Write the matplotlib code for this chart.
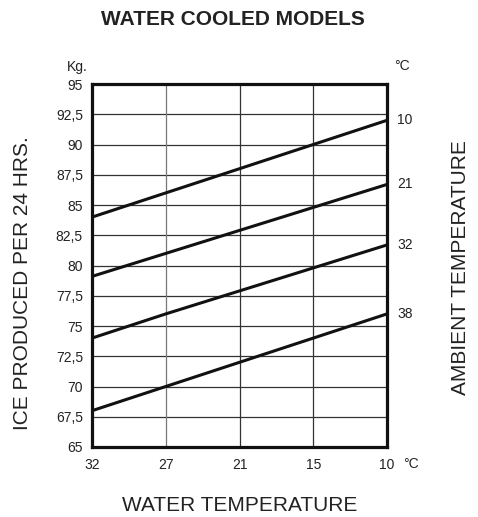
import matplotlib
matplotlib.use("Agg")
import matplotlib.pyplot as plt

plt.rcParams['font.family'] = ['Liberation Sans', 'DejaVu Sans']

water_temps = ["32", "27", "21", "15", "10"]
ambient_labels = ["10", "21", "32", "38"]
ice_10 = [84.0, 86.0, 88.0, 90.0, 92.0]
ice_21 = [79.1, 81.0, 82.9, 84.8, 86.7]
ice_32 = [74.0, 76.0, 77.9, 79.8, 81.7]
ice_38 = [68.0, 70.0, 72.0, 74.0, 76.0]
series = [ice_10, ice_21, ice_32, ice_38]
y_ticks = [65, 67.5, 70, 72.5, 75, 77.5, 80, 82.5, 85, 87.5, 90, 92.5, 95]

fig = plt.figure(figsize=(4.78, 5.17), dpi=100)
ax = fig.add_axes([0.1925, 0.1354, 0.6171, 0.7021])

x = list(range(len(water_temps)))
for yt in y_ticks[1:-1]:
    ax.axhline(yt, color='#333333', lw=0.9, zorder=1)
vcols = ['#777777', '#333333', '#333333']
for xi, c in zip(x[1:-1], vcols):
    ax.axvline(xi, color=c, lw=0.9, zorder=1)

for s, lab in zip(series, ambient_labels):
    ax.plot(x, s, color='#111111', lw=2.2, solid_capstyle='butt', zorder=3)
    ax.text(1.034, s[-1], lab, transform=ax.get_yaxis_transform(), ha='left',
            va='center', fontsize=10, color='#222222')

ax.set_xlim(0, len(water_temps) - 1)
ax.set_ylim(65, 95)
ax.set_xticks(x)
ax.set_xticklabels(water_temps)
ax.set_yticks(y_ticks)
ax.set_yticklabels([("%g" % v).replace('.', ',') for v in y_ticks])
ax.tick_params(length=0, labelsize=10, colors='#222222')
ax.tick_params(axis='y', pad=6.5)
ax.tick_params(axis='x', pad=8)
for sp in ax.spines.values():
    sp.set_linewidth(2.3)
    sp.set_color('#111111')

ax.text(-0.051, 1.047, "Kg.", transform=ax.transAxes, ha='center', va='center', fontsize=10, color='#222222')
ax.text(1.051, 1.05, "°C", transform=ax.transAxes, ha='center', va='center', fontsize=10, color='#222222')
ax.text(1.081, -0.047, "°C", transform=ax.transAxes, ha='center', va='center', fontsize=10, color='#222222')

fig.text(0.487, 0.963, "WATER COOLED MODELS", ha='center', va='center', fontsize=15, fontweight='bold', color='#222222')
fig.text(0.502, 0.022, "WATER TEMPERATURE", ha='center', va='center', fontsize=15, color='#222222')
fig.text(0.048, 0.453, "ICE PRODUCED PER 24 HRS.", rotation=90, ha='center', va='center', fontsize=15, color='#222222')
fig.text(0.964, 0.483, "AMBIENT TEMPERATURE", rotation=90, ha='center', va='center', fontsize=15, color='#222222')

fig.savefig("out.png", dpi=100)
